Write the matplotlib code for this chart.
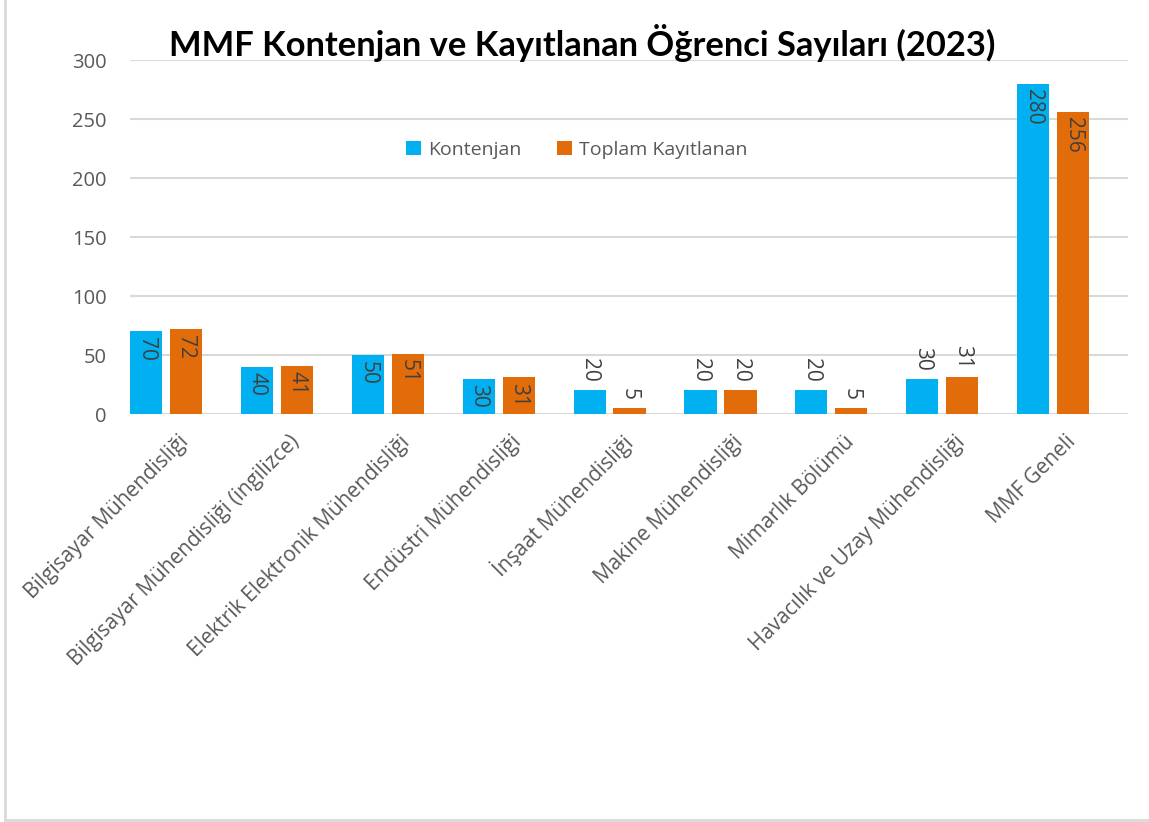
import numpy as np
import matplotlib.pyplot as plt
from matplotlib.lines import Line2D

plt.rcParams['font.family'] = ['Open Sans', 'DejaVu Sans']

# veriler
bolumler = [
    'Bilgisayar Mühendisliği',
    'Bilgisayar Mühendisliği (ingilizce)',
    'Elektrik Elektronik Mühendisliği',
    'Endüstri Mühendisliği',
    'İnşaat Mühendisliği',
    'Makine Mühendisliği',
    'Mimarlık Bölümü',
    'Havacılık ve Uzay Mühendisliği',
    'MMF Geneli',
]
kontenjan = [70, 40, 50, 30, 20, 20, 20, 30, 280]
kayitlanan = [72, 41, 51, 31, 5, 20, 5, 31, 256]
# etiket çubuğun içinde mi?
ic_etiket = [True, True, True, True, False, False, False, False, True]

mavi = '#00B0F0'
turuncu = '#E36C0A'
gri_yazi = '#595959'
etiket_renk = '#404040'

fig = plt.figure(figsize=(11.49, 8.22), dpi=100)
ax = fig.add_axes([130 / 1149, 1 - 414 / 822, 998 / 1149, 354 / 822])

x = np.arange(len(bolumler))
w = 0.29
off = 0.18
b1 = ax.bar(x - off, kontenjan, w, color=mavi, label='Kontenjan', zorder=3)
b2 = ax.bar(x + off, kayitlanan, w, color=turuncu, label='Toplam Kayıtlanan', zorder=3)

# değer etiketleri (dikey)
for bars, vals in [(b1, kontenjan), (b2, kayitlanan)]:
    for rect, v, ic in zip(bars, vals, ic_etiket):
        cx = rect.get_x() + rect.get_width() / 2
        if ic:
            ax.annotate(str(v), (cx, v), xytext=(0, -4), textcoords='offset points',
                        rotation=-90, ha='center', va='top', fontsize=15,
                        color=etiket_renk, zorder=4)
        else:
            ax.annotate(str(v), (cx, v), xytext=(0, 6), textcoords='offset points',
                        rotation=-90, ha='center', va='bottom', fontsize=15,
                        color=etiket_renk, zorder=4)

ax.set_ylim(0, 300)
ax.set_xlim(-0.325, 8.675)
ax.set_yticks(range(0, 301, 50))
ax.yaxis.grid(True, color='#D9D9D9', linewidth=1.5, zorder=0)
ax.set_axisbelow(True)
for s in ax.spines.values():
    s.set_visible(False)
ax.axhline(0, color='#D9D9D9', linewidth=2, zorder=2)

ax.set_xticks(x + 0.175)
ax.set_xticklabels(bolumler, rotation=45, ha='right', va='center',
                   rotation_mode='anchor', fontsize=15, color=gri_yazi)
ax.tick_params(axis='x', length=0, pad=18)
ax.tick_params(axis='y', length=0, pad=17, labelsize=14.5, labelcolor=gri_yazi)

fig.text(582 / 1149, 1 - 43 / 822, 'MMF Kontenjan ve Kayıtlanan Öğrenci Sayıları (2023)',
         ha='center', va='center', fontsize=24.8, fontweight='bold', family='Lato', color='black')

fig.legend(handles=[b1, b2], loc='center', bbox_to_anchor=(577 / 1149, 1 - 150 / 822),
           ncol=2, frameon=False, fontsize=14, labelcolor=gri_yazi,
           handlelength=0.75, handleheight=0.75, handletextpad=0.4, columnspacing=1.8)

# çerçeve
fig.add_artist(Line2D([5 / 1149, 5 / 1149], [2 / 822, 1], color='#D9D9D9', linewidth=2))
fig.add_artist(Line2D([5 / 1149, 1], [2 / 822, 2 / 822], color='#D9D9D9', linewidth=2))

fig.savefig('out.png', dpi=100)
